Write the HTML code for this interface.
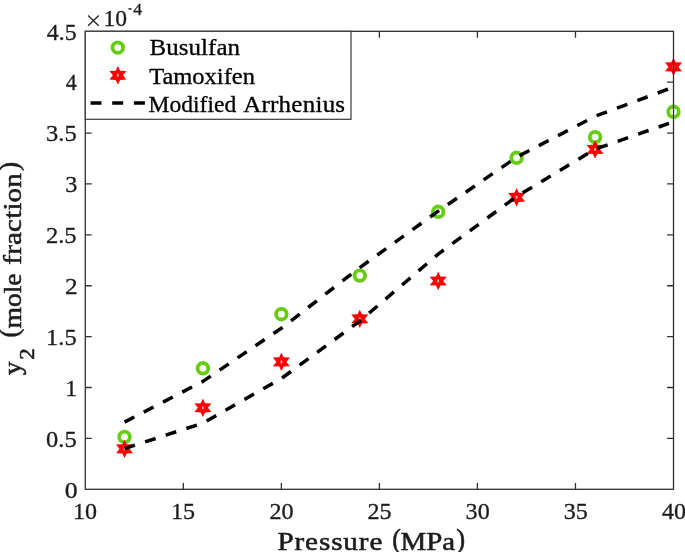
<!DOCTYPE html>
<html><head><meta charset="utf-8"><title>Solubility plot</title>
<style>html,body{margin:0;padding:0;background:#fff;overflow:hidden;}svg{display:block;}text{font-family:"Liberation Serif",serif;}</style>
</head><body><div style="will-change:transform;width:685px;height:552px;background:#fff">
<svg width="685" height="552" viewBox="0 0 685 552">
<rect x="0" y="0" width="685" height="552" fill="#ffffff"/>
<defs>
<g id="star"><polygon points="0,-9.2 2.2,-4.6 8.5,-4.3 5,0 8.5,4.3 2.2,4.6 0,9.2 -2.2,4.6 -8.5,4.3 -5,0 -8.5,-4.3 -2.2,-4.6" fill="#ff0000"/><rect x="-0.8" y="-1.5" width="1.6" height="3" fill="#ffb0b0"/></g>
<circle id="circ" cx="0" cy="0" r="5.3" fill="none" stroke="#66cc11" stroke-width="3.8"/>
</defs>
<use href="#circ" x="124.5" y="436.9"/>
<use href="#circ" x="202.9" y="368.3"/>
<use href="#circ" x="281.4" y="314.2"/>
<use href="#circ" x="359.8" y="275.6"/>
<use href="#circ" x="438.2" y="211.8"/>
<use href="#circ" x="516.6" y="157.8"/>
<use href="#circ" x="595.1" y="137.1"/>
<use href="#circ" x="673.5" y="111.8"/>
<use href="#star" x="124.5" y="448.9"/>
<use href="#star" x="202.9" y="407.8"/>
<use href="#star" x="281.4" y="361.9"/>
<use href="#star" x="359.8" y="318.9"/>
<use href="#star" x="438.2" y="281.0"/>
<use href="#star" x="516.6" y="197.3"/>
<use href="#star" x="595.1" y="149.4"/>
<use href="#star" x="673.5" y="66.9"/>
<polyline points="124.5,422.1 202.9,381.4 281.4,328.2 359.8,267.6 438.2,211.2 516.6,157.2 595.1,116.3 673.5,87.1" fill="none" stroke="#000" stroke-width="3.5" stroke-dasharray="11 10.7" stroke-linejoin="round"/>
<polyline points="124.5,448.6 202.9,423.1 281.4,378.5 359.8,321.1 438.2,254.1 516.6,196.5 595.1,149.2 673.5,121.8" fill="none" stroke="#000" stroke-width="3.5" stroke-dasharray="11 10.7" stroke-linejoin="round"/>
<rect x="85.3" y="31.3" width="588.20" height="458.00" fill="none" stroke="#303030" stroke-width="1.3"/>
<path d="M183.33,489.3v-6.4M183.33,31.3v6.4M281.37,489.3v-6.4M281.37,31.3v6.4M379.40,489.3v-6.4M379.40,31.3v6.4M477.43,489.3v-6.4M477.43,31.3v6.4M575.47,489.3v-6.4M575.47,31.3v6.4M85.3,438.41h6.4M673.5,438.41h-6.4M85.3,387.52h6.4M673.5,387.52h-6.4M85.3,336.63h6.4M673.5,336.63h-6.4M85.3,285.74h6.4M673.5,285.74h-6.4M85.3,234.86h6.4M673.5,234.86h-6.4M85.3,183.97h6.4M673.5,183.97h-6.4M85.3,133.08h6.4M673.5,133.08h-6.4M85.3,82.19h6.4M673.5,82.19h-6.4" stroke="#303030" stroke-width="1.3" fill="none"/>
<rect x="85.3" y="31.3" width="265.70" height="88.00" fill="#fff" stroke="#3a3a3a" stroke-width="1.2"/>
<use href="#circ" x="117.8" y="47.6"/>
<use href="#star" x="117.9" y="75.3"/>
<path d="M90.5,103.1H145.5" stroke="#000" stroke-width="3.5" stroke-dasharray="11 10.7" fill="none"/>
<path d="M128.5,8.9H131.5" stroke="#1c1c1c" stroke-width="1.5" fill="none"/>
<path d="M88.1,15.5L98.7,25.7M98.7,15.5L88.1,25.7" stroke="#1c1c1c" stroke-width="1.2" fill="none"/>
<text transform="translate(73.00,518.90) scale(1.0900,1)" font-size="22.1" fill="#1c1c1c" stroke="#1c1c1c" stroke-width="0.3">10</text>
<text transform="translate(171.03,518.90) scale(1.0900,1)" font-size="22.1" fill="#1c1c1c" stroke="#1c1c1c" stroke-width="0.3">15</text>
<text transform="translate(269.54,518.90) scale(1.0900,1)" font-size="22.1" fill="#1c1c1c" stroke="#1c1c1c" stroke-width="0.3">20</text>
<text transform="translate(367.57,518.90) scale(1.0900,1)" font-size="22.1" fill="#1c1c1c" stroke="#1c1c1c" stroke-width="0.3">25</text>
<text transform="translate(465.61,518.90) scale(1.0900,1)" font-size="22.1" fill="#1c1c1c" stroke="#1c1c1c" stroke-width="0.3">30</text>
<text transform="translate(563.64,518.90) scale(1.0900,1)" font-size="22.1" fill="#1c1c1c" stroke="#1c1c1c" stroke-width="0.3">35</text>
<text transform="translate(662.01,518.90) scale(1.0900,1)" font-size="22.1" fill="#1c1c1c" stroke="#1c1c1c" stroke-width="0.3">40</text>
<text transform="translate(64.83,497.60) scale(1.1636,1)" font-size="22.1" fill="#1c1c1c" stroke="#1c1c1c" stroke-width="0.3">0</text>
<text transform="translate(46.07,446.71) scale(1.1062,1)" font-size="22.1" fill="#1c1c1c" stroke="#1c1c1c" stroke-width="0.3">0.5</text>
<text transform="translate(65.27,395.82) scale(1.0769,1)" font-size="22.1" fill="#1c1c1c" stroke="#1c1c1c" stroke-width="0.3">1</text>
<text transform="translate(46.06,344.93) scale(1.1065,1)" font-size="22.1" fill="#1c1c1c" stroke="#1c1c1c" stroke-width="0.3">1.5</text>
<text transform="translate(64.90,294.04) scale(1.1452,1)" font-size="22.1" fill="#1c1c1c" stroke="#1c1c1c" stroke-width="0.3">2</text>
<text transform="translate(45.93,243.16) scale(1.1115,1)" font-size="22.1" fill="#1c1c1c" stroke="#1c1c1c" stroke-width="0.3">2.5</text>
<text transform="translate(65.14,192.27) scale(1.0947,1)" font-size="22.1" fill="#1c1c1c" stroke="#1c1c1c" stroke-width="0.3">3</text>
<text transform="translate(46.03,141.38) scale(1.1077,1)" font-size="22.1" fill="#1c1c1c" stroke="#1c1c1c" stroke-width="0.3">3.5</text>
<text transform="translate(65.85,90.49) scale(0.9976,1)" font-size="22.1" fill="#1c1c1c" stroke="#1c1c1c" stroke-width="0.3">4</text>
<text transform="translate(46.83,39.60) scale(1.0779,1)" font-size="22.1" fill="#1c1c1c" stroke="#1c1c1c" stroke-width="0.3">4.5</text>
<text transform="translate(103.44,26.00) scale(1.0650,1)" font-size="22.1" fill="#1c1c1c" stroke="#1c1c1c" stroke-width="0.3">10</text>
<text transform="translate(133.36,15.30) scale(1.1097,1)" font-size="15.9" fill="#1c1c1c" stroke="#1c1c1c" stroke-width="0.3">4</text>
<text transform="translate(149.54,55.40) scale(1.1200,1)" font-size="22.3" letter-spacing="0.043" fill="#000" stroke="#000" stroke-width="0.3">Busulfan</text>
<text transform="translate(149.13,83.65) scale(1.0993,1)" font-size="22.3" fill="#000" stroke="#000" stroke-width="0.3">Tamoxifen</text>
<text transform="translate(148.57,111.60) scale(1.0561,1)" font-size="22.3" fill="#000" stroke="#000" stroke-width="0.3">Modified</text>
<text transform="translate(243.16,111.60) scale(1.1200,1)" font-size="22.3" letter-spacing="0.237" fill="#000" stroke="#000" stroke-width="0.3">Arrhenius</text>
<text transform="translate(277.44,549.70) scale(1.1200,1)" font-size="26.0" letter-spacing="0.798" fill="#1c1c1c" stroke="#1c1c1c" stroke-width="0.55">Pressure</text>
<text transform="translate(392.27,547.50) scale(0.9290,1)" font-size="28.0" fill="#1c1c1c" stroke="#1c1c1c" stroke-width="0.55">(</text>
<text transform="translate(400.54,549.70) scale(1.1134,1)" font-size="26.0" fill="#1c1c1c" stroke="#1c1c1c" stroke-width="0.55">MPa</text>
<text transform="translate(456.30,547.50) scale(0.9548,1)" font-size="28.0" fill="#1c1c1c" stroke="#1c1c1c" stroke-width="0.55">)</text>
<g transform="translate(21.4,375) rotate(-90)">
<text transform="translate(0.00,0.00) scale(1.0362,1)" font-size="26.0" fill="#1c1c1c" stroke="#1c1c1c" stroke-width="0.55">y</text>
<text transform="translate(15.33,12.30) scale(1.0703,1)" font-size="21.6" fill="#1c1c1c" stroke="#1c1c1c" stroke-width="0.55">2</text>
<text transform="translate(37.46,-3.50) scale(0.9419,1)" font-size="28.0" fill="#1c1c1c" stroke="#1c1c1c" stroke-width="0.55">(</text>
<text transform="translate(46.43,0.00) scale(1.0621,1)" font-size="26.0" fill="#1c1c1c" stroke="#1c1c1c" stroke-width="0.55">mole</text>
<text transform="translate(110.34,0.00) scale(1.1200,1)" font-size="26.0" letter-spacing="0.130" fill="#1c1c1c" stroke="#1c1c1c" stroke-width="0.55">fraction</text>
<text transform="translate(203.99,-3.50) scale(0.9806,1)" font-size="28.0" fill="#1c1c1c" stroke="#1c1c1c" stroke-width="0.55">)</text>
</g>
</svg></div></body></html>
